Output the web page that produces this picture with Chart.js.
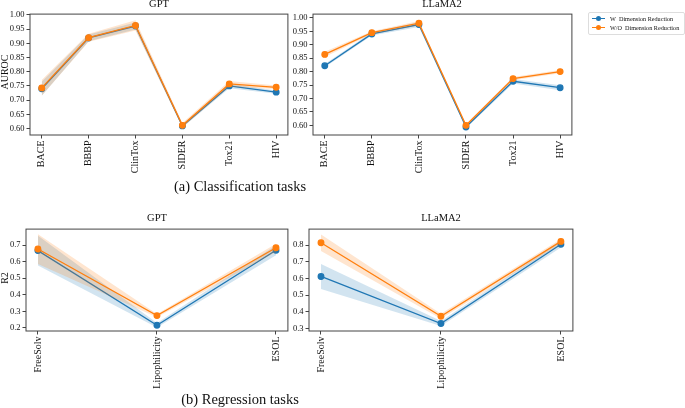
<!DOCTYPE html>
<html>
<head>
<meta charset="utf-8">
<script src="https://cdn.jsdelivr.net/npm/chart.js@4.4.1/dist/chart.umd.min.js"></script>
<style>
  body { margin: 0; background: #fff; width: 685px; height: 408px; position: relative; overflow: hidden; font-family: "Liberation Serif", serif; }
  .panel { position: absolute; }
  .ttl { position: absolute; font-size: 10.5px; color: #111; transform: translateX(-50%); white-space: nowrap; }
  .ylab { position: absolute; font-size: 10px; color: #111; transform: translate(-50%, -50%) rotate(-90deg); white-space: nowrap; }
  .cap { position: absolute; font-size: 14.5px; color: #111; transform: translateX(-50%); white-space: nowrap; }
  #legend { position: absolute; left: 588px; top: 12px; width: 95px; height: 21px; border: 1px solid #ddd; border-radius: 2px; font-size: 6.2px; color: #111; }
  .item { position: absolute; left: 3px; height: 9px; line-height: 9px; white-space: nowrap; }
  .sw { display: inline-block; position: relative; width: 13px; height: 9px; vertical-align: top; margin-right: 5px; }
  .sw i { position: absolute; left: 0; top: 4px; width: 13px; height: 1.2px; }
  .sw b { position: absolute; left: 4px; top: 2px; width: 5px; height: 5px; border-radius: 50%; }
</style>
</head>
<body>
<div class="panel" id="p1"><canvas id="c1"></canvas></div>
<div class="panel" id="p2"><canvas id="c2"></canvas></div>
<div class="panel" id="p3"><canvas id="c3"></canvas></div>
<div class="panel" id="p4"><canvas id="c4"></canvas></div>

<div class="ttl" style="left:159px; top:-2px;">GPT</div>
<div class="ttl" style="left:442px; top:-2px;">LLaMA2</div>
<div class="ttl" style="left:157px; top:212px;">GPT</div>
<div class="ttl" style="left:441px; top:212px;">LLaMA2</div>
<div class="ylab" style="left:4px; top:72px;">AUROC</div>
<div class="ylab" style="left:4px; top:278px;">R2</div>
<div class="cap" style="left:240px; top:178px;">(a) Classification tasks</div>
<div class="cap" style="left:240px; top:391px;">(b) Regression tasks</div>

<div id="legend">
  <div class="item" style="top:1px;"><span class="sw"><i style="background:#1f77b4"></i><b style="background:#1f77b4"></b></span>W&nbsp; Dimension Reduction</div>
  <div class="item" style="top:10px;"><span class="sw"><i style="background:#ff7f0e"></i><b style="background:#ff7f0e"></b></span>W/O&nbsp; Dimension Reduction</div>
</div>

<script>
// categories
const clsCategories = ['BACE', 'BBBP', 'ClinTox', 'SIDER', 'Tox21', 'HIV'];
const regCategories = ['FreeSolv', 'Lipophilicity', 'ESOL'];

// y tick labels
const clsTicks = [0.60, 0.65, 0.70, 0.75, 0.80, 0.85, 0.90, 0.95, 1.00];
const gptRegTicks = [0.2, 0.3, 0.4, 0.5, 0.6, 0.7];
const llamaRegTicks = [0.3, 0.4, 0.5, 0.6, 0.7, 0.8];

// classification, GPT
const gptClsW = [0.740, 0.919, 0.961, 0.609, 0.750, 0.728];
const gptClsWErr = [0.025, 0.012, 0.012, 0.006, 0.008, 0.006];
const gptClsWO = [0.743, 0.920, 0.963, 0.611, 0.757, 0.745];
const gptClsWOErr = [0.028, 0.014, 0.018, 0.008, 0.010, 0.006];

// classification, LLaMA2
const llamaClsW = [0.822, 0.940, 0.975, 0.594, 0.764, 0.740];
const llamaClsWErr = [0.006, 0.006, 0.009, 0.005, 0.008, 0.009];
const llamaClsWO = [0.864, 0.945, 0.980, 0.600, 0.774, 0.800];
const llamaClsWOErr = [0.010, 0.005, 0.008, 0.004, 0.006, 0.006];

// regression, GPT
const gptRegW = [0.667, 0.216, 0.669];
const gptRegWErr = [0.090, 0.014, 0.030];
const gptRegWO = [0.677, 0.274, 0.684];
const gptRegWOErr = [0.090, 0.010, 0.025];

// regression, LLaMA2
const llamaRegW = [0.612, 0.329, 0.806];
const llamaRegWErr = [0.075, 0.015, 0.020];
const llamaRegWO = [0.815, 0.373, 0.823];
const llamaRegWOErr = [0.050, 0.015, 0.015];

const BLUE = '#1f77b4';
const ORANGE = '#ff7f0e';
const AXIS = '#444';

const framePlugin = {
  id: 'frame',
  afterDraw(chart) {
    const { ctx, chartArea: a } = chart;
    ctx.save();
    ctx.strokeStyle = AXIS;
    ctx.lineWidth = 1;
    ctx.strokeRect(a.left, a.top, a.right - a.left, a.bottom - a.top);
    ctx.restore();
  }
};

function pts(vals, errs, sign) {
  return vals.map((v, i) => ({ x: i, y: v + sign * (errs ? errs[i] : 0) }));
}

function seriesSets(vals, errs, color, band, base) {
  return [
    { data: pts(vals, errs, -1), borderColor: 'transparent', borderWidth: 0, pointRadius: 0, fill: false, order: base + 2 },
    { data: pts(vals, errs, 1), borderColor: 'transparent', borderWidth: 0, pointRadius: 0, backgroundColor: band, fill: '-1', order: base + 1 },
    { data: pts(vals, null, 0), borderColor: color, backgroundColor: color, borderWidth: 1.3, pointRadius: 2.8, pointHoverRadius: 2.8, fill: false, order: base }
  ];
}

// area = plot rectangle in page pixels
function makePanel(id, area, cats, w, wErr, wo, woErr, yTicks, decimals, margin, xh) {
  const yw = 40, padT = 3, padR = 4;
  const box = document.getElementById('p' + id);
  box.style.left = (area.l - yw) + 'px';
  box.style.top = (area.t - padT) + 'px';
  box.style.width = (area.r - area.l + yw + padR) + 'px';
  box.style.height = (area.b - area.t + padT + xh) + 'px';

  new Chart(document.getElementById('c' + id), {
    type: 'line',
    data: {
      datasets: [
        ...seriesSets(w, wErr, BLUE, 'rgba(31,119,180,0.2)', 3),
        ...seriesSets(wo, woErr, ORANGE, 'rgba(255,127,14,0.2)', 0)
      ]
    },
    options: {
      responsive: true,
      maintainAspectRatio: false,
      animation: false,
      layout: { padding: { top: padT, right: padR, left: 0, bottom: 0 } },
      plugins: { legend: { display: false }, tooltip: { enabled: false }, title: { display: false } },
      elements: { line: { tension: 0 } },
      scales: {
        x: {
          type: 'linear',
          min: -margin,
          max: cats.length - 1 + margin,
          afterBuildTicks: s => { s.ticks = cats.map((c, i) => ({ value: i })); },
          afterFit: s => { s.height = xh; },
          ticks: {
            autoSkip: false, minRotation: 90, maxRotation: 90, padding: 2,
            color: '#111', font: { family: 'Liberation Serif', size: 10 },
            callback: v => cats[v]
          },
          grid: { display: true, drawOnChartArea: false, drawTicks: true, tickLength: 3.5, color: AXIS },
          border: { display: false }
        },
        y: {
          min: area.yMin,
          max: area.yMax,
          afterBuildTicks: s => { s.ticks = yTicks.map(v => ({ value: v })); },
          afterFit: s => { s.width = yw; },
          ticks: {
            padding: 2, color: '#111', font: { family: 'Liberation Serif', size: 8.5 },
            callback: v => Number(v).toFixed(decimals)
          },
          grid: { display: true, drawOnChartArea: false, drawTicks: true, tickLength: 3.5, color: AXIS },
          border: { display: false }
        }
      }
    },
    plugins: [framePlugin]
  });
}

makePanel(1, { l: 30, t: 10, r: 288, b: 135, yMin: 0.577, yMax: 1.003 }, clsCategories,
  gptClsW, gptClsWErr, gptClsWO, gptClsWOErr, clsTicks, 2, 0.25, 60);
makePanel(2, { l: 313, t: 10, r: 572, b: 135, yMin: 0.564, yMax: 1.014 }, clsCategories,
  llamaClsW, llamaClsWErr, llamaClsWO, llamaClsWOErr, clsTicks, 2, 0.25, 60);
makePanel(3, { l: 26, t: 225, r: 288, b: 331, yMin: 0.181, yMax: 0.797 }, regCategories,
  gptRegW, gptRegWErr, gptRegWO, gptRegWOErr, gptRegTicks, 1, 0.1, 70);
makePanel(4, { l: 309, t: 225, r: 573, b: 331, yMin: 0.284, yMax: 0.897 }, regCategories,
  llamaRegW, llamaRegWErr, llamaRegWO, llamaRegWOErr, llamaRegTicks, 1, 0.1, 70);
</script>
</body>
</html>
